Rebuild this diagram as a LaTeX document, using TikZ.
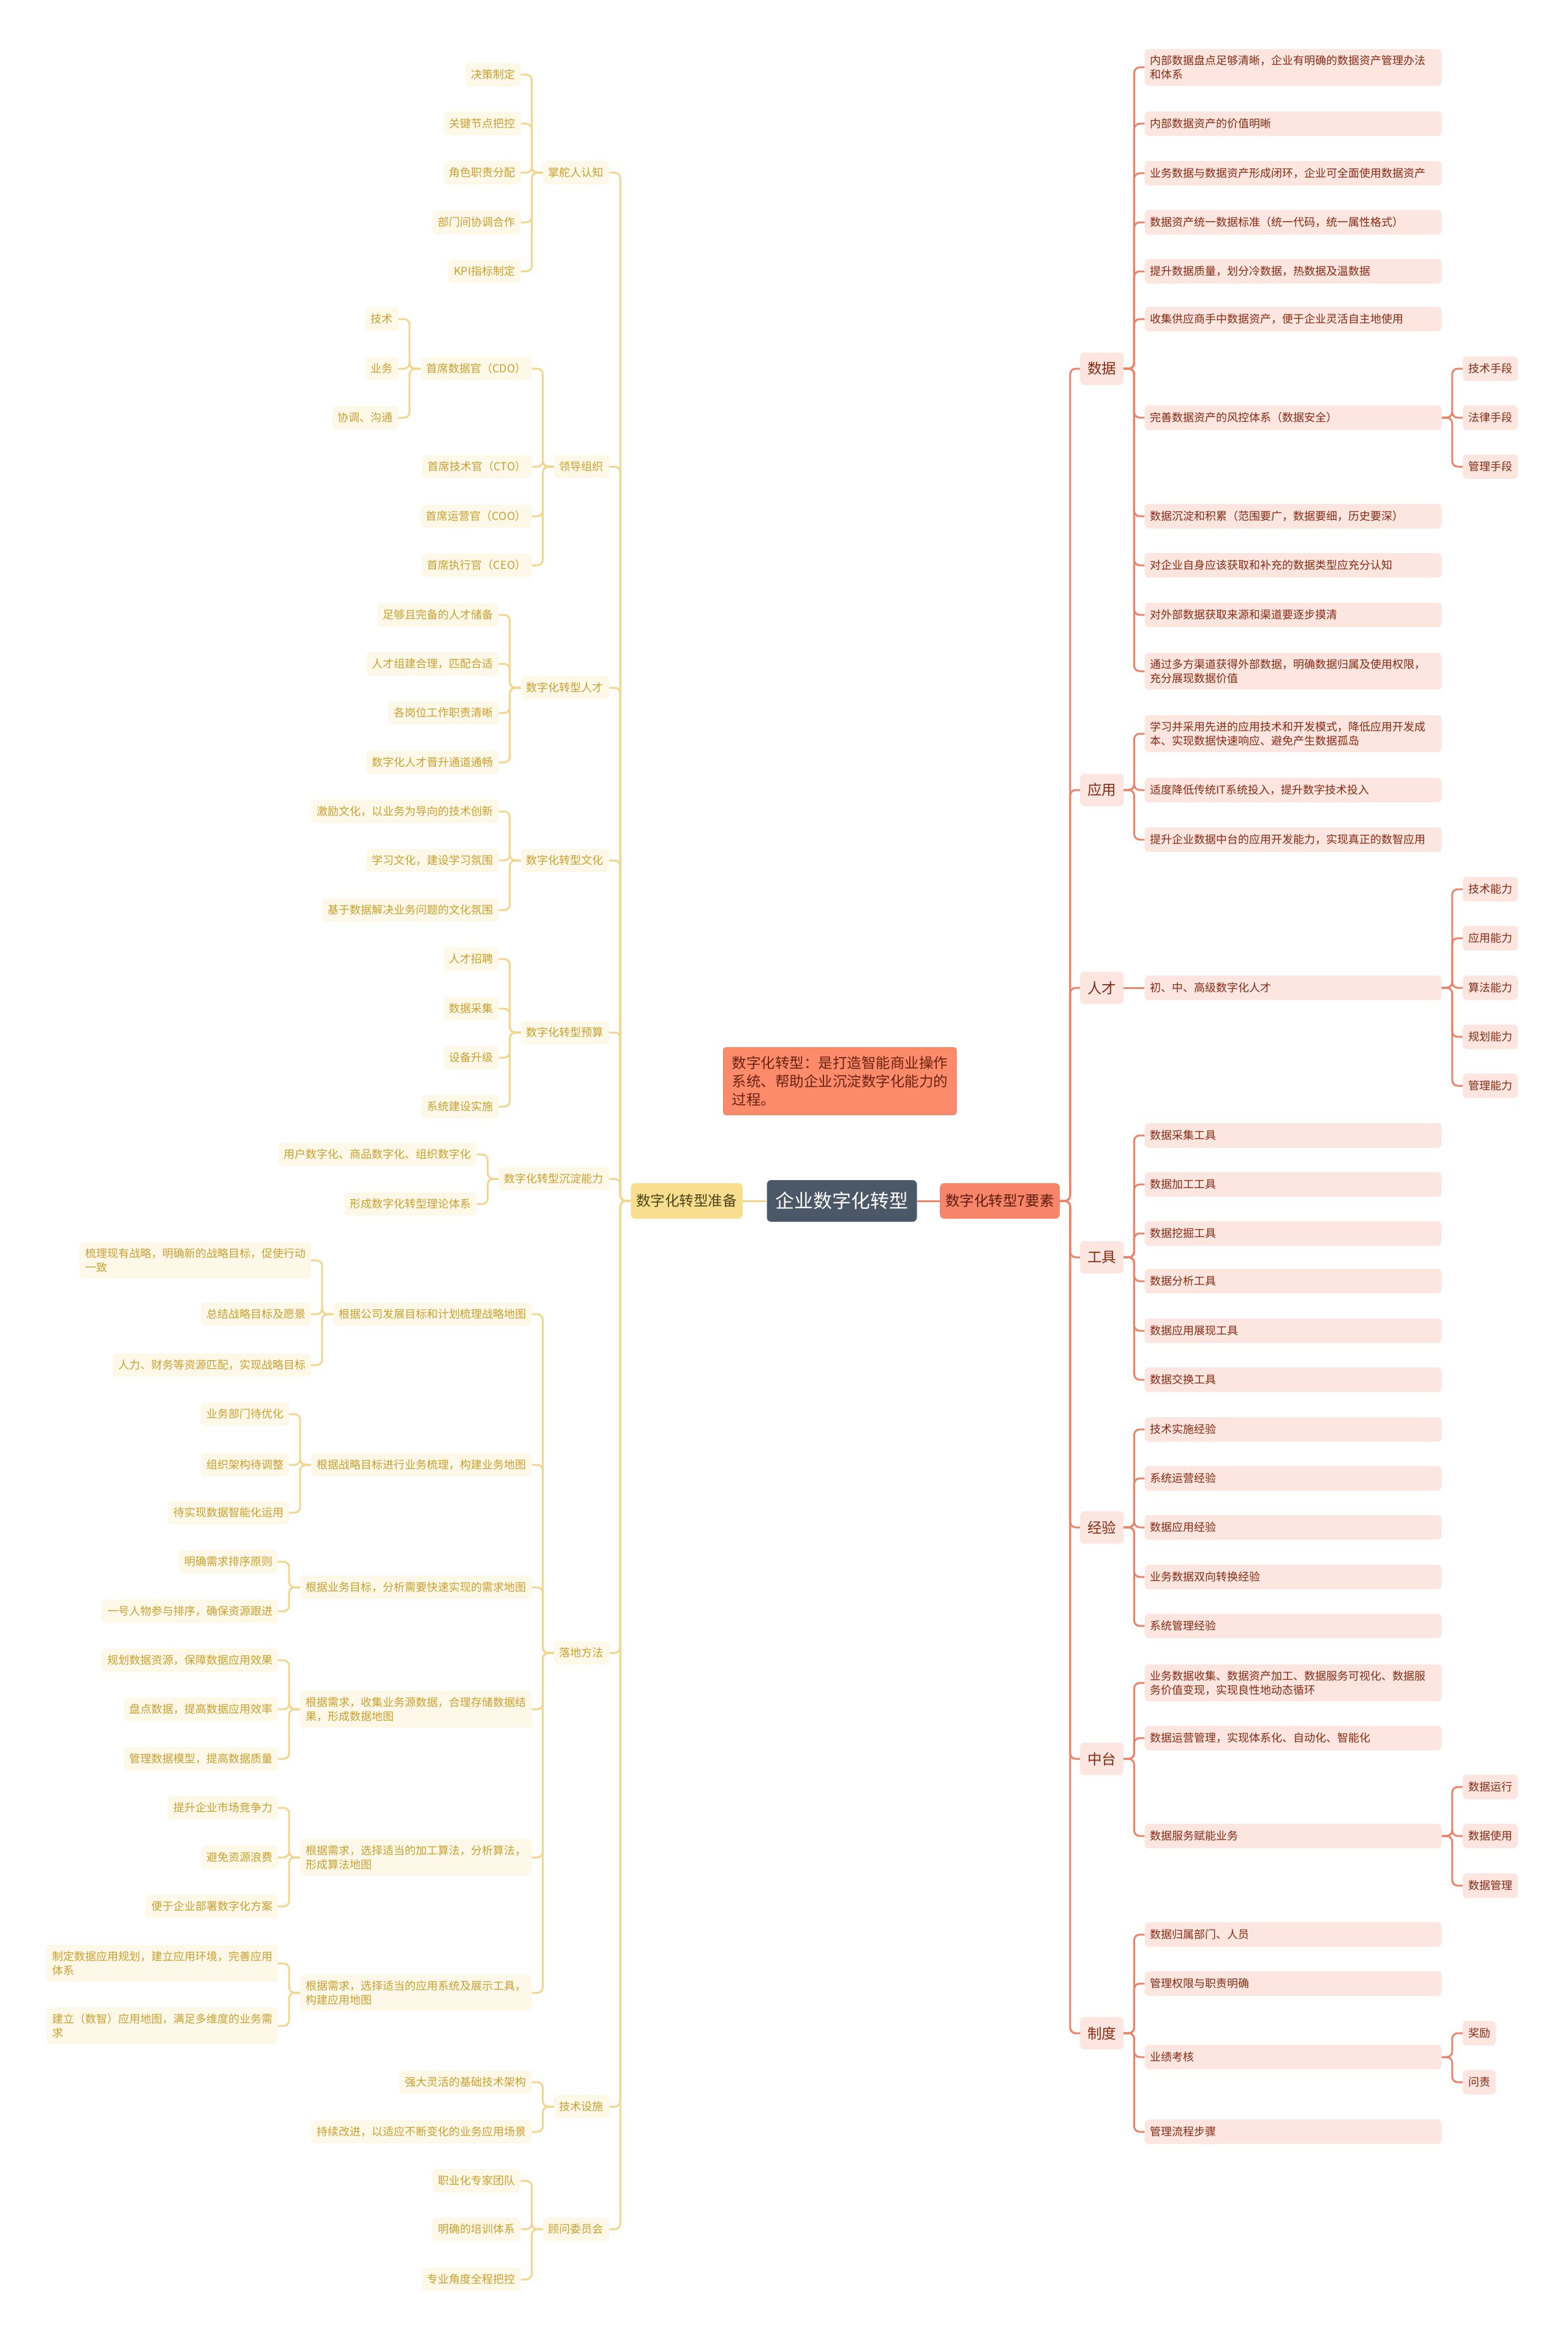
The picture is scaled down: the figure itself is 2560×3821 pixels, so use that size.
\documentclass[tikz,border=0pt]{standalone}
\usepackage{fontspec}
\setmainfont{Noto Sans CJK SC}
\definecolor{goldtxt}{HTML}{C9A030}
\definecolor{goldfill}{HTML}{FEF8E8}
\definecolor{goldline}{HTML}{F3D68E}
\definecolor{goldmain}{HTML}{F8DF8F}
\definecolor{goldmaintxt}{HTML}{4F4216}
\definecolor{redtxt}{HTML}{862A13}
\definecolor{redfill}{HTML}{FDE6E0}
\definecolor{redline}{HTML}{E8856A}
\definecolor{redmain}{HTML}{F6856A}
\definecolor{redmaintxt}{HTML}{5E1D0C}
\definecolor{slate}{HTML}{4A5868}
\definecolor{notefill}{HTML}{FC8B6C}
\definecolor{noteline}{HTML}{EE7A5A}
\definecolor{notetxt}{HTML}{6A2210}
\begin{document}
\begin{tikzpicture}[x=1pt,y=-1pt,
  mmbox/.style={rounded corners=7pt,inner xsep=9pt,inner ysep=10pt},
  txtS/.style={font=\fontsize{18}{23}\selectfont},
  txtM/.style={font=\fontsize{23.5}{28}\selectfont},
  leafL/.style={mmbox,txtS,fill=goldfill,text=goldtxt,minimum height=38pt,align=left},
  leafR/.style={mmbox,txtS,fill=redfill,text=redtxt,minimum height=40pt,text width=467pt,align=left},
  subR/.style={mmbox,txtS,fill=redfill,text=redtxt,minimum height=40pt},
  catR/.style={mmbox,txtM,fill=redfill,text=redtxt,minimum width=71pt,minimum height=53pt,inner xsep=12pt},
  lineL/.style={draw=goldline,line width=3pt,rounded corners=9pt},
  lineR/.style={draw=redline,line width=3pt,rounded corners=9pt}]
  \fill[white] (0,0) rectangle (2560,3821);
  \useasboundingbox (0,0) rectangle (2560,3821);

  % centre
  \node[mmbox,fill=slate,text=white,font=\fontsize{31}{36}\selectfont,minimum height=68pt,inner xsep=14pt] (root) at (1375,1961) {企业数字化转型};
  \node[mmbox,txtM,fill=goldmain,text=goldmaintxt,minimum height=58pt,anchor=east] (prep) at (1213,1961) {数字化转型准备};
  \node[mmbox,txtM,fill=redmain,text=redmaintxt,minimum height=58pt,anchor=west] (elem) at (1535,1961) {数字化转型7要素};
  \node[mmbox,txtM,fill=notefill,draw=noteline,line width=1pt,text=notetxt,font=\fontsize{23.5}{30}\selectfont,align=left,inner xsep=14pt,inner ysep=14pt,rounded corners=4pt,anchor=north west] (note) at (1181,1710) {数字化转型：是打造智能商业操作\\系统、帮助企业沉淀数字化能力的\\过程。};
  \draw[lineL] (root.west) -- (prep.east);
  \draw[lineR] (root.east) -- (elem.west);

  % left half
  \node[leafL,anchor=east] (zdr) at (995,282) {掌舵人认知};
  \node[leafL,anchor=east] (ldzz) at (995,762) {领导组织};
  \node[leafL,anchor=east] (rc) at (995,1123) {数字化转型人才};
  \node[leafL,anchor=east] (wh) at (995,1405) {数字化转型文化};
  \node[leafL,anchor=east] (ys) at (995,1686) {数字化转型预算};
  \node[leafL,anchor=east] (cd) at (995,1925) {数字化转型沉淀能力};
  \node[leafL,anchor=east] (ld) at (995,2699) {落地方法};
  \node[leafL,anchor=east] (js) at (995,3440) {技术设施};
  \node[leafL,anchor=east] (gw) at (995,3640) {顾问委员会};
  \foreach \n in {zdr,ldzz,rc,wh,ys,cd,ld,js,gw}
    \draw[lineL] (prep.west) -- ++(-17,0) |- (\n.east);

  \path (zdr.west) ++(-36,0) coordinate (zdrx);
  \foreach \y/\t [count=\i] in {122/决策制定,202/关键节点把控,282/角色职责分配,363/部门间协调合作,443/KPI指标制定}{
    \node[leafL,anchor=east] (zdr\i) at (zdrx |- 0,\y) {\t};
    \draw[lineL] (zdr.west) -- ++(-18,0) |- (zdr\i.east);
  }
  \path (ldzz.west) ++(-36,0) coordinate (ldzzx);
  \foreach \y/\t [count=\i] in {602/首席数据官（CDO）,762/首席技术官（CTO）,843/首席运营官（COO）,923/首席执行官（CEO）}{
    \node[leafL,anchor=east] (ldzz\i) at (ldzzx |- 0,\y) {\t};
    \draw[lineL] (ldzz.west) -- ++(-18,0) |- (ldzz\i.east);
  }
  \path (ldzz1.west) ++(-36,0) coordinate (cdox);
  \foreach \y/\t [count=\i] in {521/技术,602/业务,682/协调、沟通}{
    \node[leafL,anchor=east] (cdo\i) at (cdox |- 0,\y) {\t};
    \draw[lineL] (ldzz1.west) -- ++(-18,0) |- (cdo\i.east);
  }
  \path (rc.west) ++(-36,0) coordinate (rcx);
  \foreach \y/\t [count=\i] in {1004/足够且完备的人才储备,1084/人才组建合理，匹配合适,1164/各岗位工作职责清晰,1245/数字化人才晋升通道通畅}{
    \node[leafL,anchor=east] (rc\i) at (rcx |- 0,\y) {\t};
    \draw[lineL] (rc.west) -- ++(-18,0) |- (rc\i.east);
  }
  \path (wh.west) ++(-36,0) coordinate (whx);
  \foreach \y/\t [count=\i] in {1325/激励文化，以业务为导向的技术创新,1405/学习文化，建设学习氛围,1486/基于数据解决业务问题的文化氛围}{
    \node[leafL,anchor=east] (wh\i) at (whx |- 0,\y) {\t};
    \draw[lineL] (wh.west) -- ++(-18,0) |- (wh\i.east);
  }
  \path (ys.west) ++(-36,0) coordinate (ysx);
  \foreach \y/\t [count=\i] in {1566/人才招聘,1647/数据采集,1727/设备升级,1807/系统建设实施}{
    \node[leafL,anchor=east] (ys\i) at (ysx |- 0,\y) {\t};
    \draw[lineL] (ys.west) -- ++(-18,0) |- (ys\i.east);
  }
  \path (cd.west) ++(-36,0) coordinate (cdx);
  \foreach \y/\t [count=\i] in {1885/用户数字化、商品数字化、组织数字化,1966/形成数字化转型理论体系}{
    \node[leafL,anchor=east] (cd\i) at (cdx |- 0,\y) {\t};
    \draw[lineL] (cd.west) -- ++(-18,0) |- (cd\i.east);
  }
  \path (ld.west) ++(-36,0) coordinate (ldx);
  \foreach \y/\t [count=\i] in {2146/根据公司发展目标和计划梳理战略地图,2392/根据战略目标进行业务梳理，构建业务地图,2592/根据业务目标，分析需要快速实现的需求地图,2791/{根据需求，收集业务源数据，合理存储数据结\\果，形成数据地图},3033/{根据需求，选择适当的加工算法，分析算法，\\形成算法地图},3254/{根据需求，选择适当的应用系统及展示工具，\\构建应用地图}}{
    \node[leafL,anchor=east] (ld\i) at (ldx |- 0,\y) {\t};
    \draw[lineL] (ld.west) -- ++(-18,0) |- (ld\i.east);
  }
  \path (ld1.west) ++(-36,0) coordinate (zlx);
  \foreach \y/\t [count=\i] in {2058/{梳理现有战略，明确新的战略目标，促使行动\\一致},2146/总结战略目标及愿景,2229/人力、财务等资源匹配，实现战略目标}{
    \node[leafL,anchor=east] (zl\i) at (zlx |- 0,\y) {\t};
    \draw[lineL] (ld1.west) -- ++(-18,0) |- (zl\i.east);
  }
  \path (ld2.west) ++(-36,0) coordinate (ywx);
  \foreach \y/\t [count=\i] in {2309/业务部门待优化,2392/组织架构待调整,2470/待实现数据智能化运用}{
    \node[leafL,anchor=east] (yw\i) at (ywx |- 0,\y) {\t};
    \draw[lineL] (ld2.west) -- ++(-18,0) |- (yw\i.east);
  }
  \path (ld3.west) ++(-36,0) coordinate (xqx);
  \foreach \y/\t [count=\i] in {2550/明确需求排序原则,2631/一号人物参与排序，确保资源跟进}{
    \node[leafL,anchor=east] (xq\i) at (xqx |- 0,\y) {\t};
    \draw[lineL] (ld3.west) -- ++(-18,0) |- (xq\i.east);
  }
  \path (ld4.west) ++(-36,0) coordinate (sjtx);
  \foreach \y/\t [count=\i] in {2711/规划数据资源，保障数据应用效果,2791/盘点数据，提高数据应用效率,2872/管理数据模型，提高数据质量}{
    \node[leafL,anchor=east] (sjt\i) at (sjtx |- 0,\y) {\t};
    \draw[lineL] (ld4.west) -- ++(-18,0) |- (sjt\i.east);
  }
  \path (ld5.west) ++(-36,0) coordinate (sfx);
  \foreach \y/\t [count=\i] in {2952/提升企业市场竞争力,3033/避免资源浪费,3113/便于企业部署数字化方案}{
    \node[leafL,anchor=east] (sf\i) at (sfx |- 0,\y) {\t};
    \draw[lineL] (ld5.west) -- ++(-18,0) |- (sf\i.east);
  }
  \path (ld6.west) ++(-36,0) coordinate (yytx);
  \foreach \y/\t [count=\i] in {3206/{制定数据应用规划，建立应用环境，完善应用\\体系},3308/{建立（数智）应用地图，满足多维度的业务需\\求}}{
    \node[leafL,anchor=east] (yyt\i) at (yytx |- 0,\y) {\t};
    \draw[lineL] (ld6.west) -- ++(-18,0) |- (yyt\i.east);
  }
  \path (js.west) ++(-36,0) coordinate (jsx);
  \foreach \y/\t [count=\i] in {3400/强大灵活的基础技术架构,3481/持续改进，以适应不断变化的业务应用场景}{
    \node[leafL,anchor=east] (js\i) at (jsx |- 0,\y) {\t};
    \draw[lineL] (js.west) -- ++(-18,0) |- (js\i.east);
  }
  \path (gw.west) ++(-36,0) coordinate (gwx);
  \foreach \y/\t [count=\i] in {3561/职业化专家团队,3640/明确的培训体系,3722/专业角度全程把控}{
    \node[leafL,anchor=east] (gw\i) at (gwx |- 0,\y) {\t};
    \draw[lineL] (gw.west) -- ++(-18,0) |- (gw\i.east);
  }

  % right half
  \node[catR,anchor=west] (sj) at (1764,602) {数据};
  \node[catR,anchor=west] (yy) at (1764,1290) {应用};
  \node[catR,anchor=west] (rcR) at (1764,1613) {人才};
  \node[catR,anchor=west] (gj) at (1764,2053) {工具};
  \node[catR,anchor=west] (jy) at (1764,2494) {经验};
  \node[catR,anchor=west] (zt) at (1764,2872) {中台};
  \node[catR,anchor=west] (zd) at (1764,3320) {制度};
  \foreach \n in {sj,yy,rcR,gj,jy,zt,zd}
    \draw[lineR] (elem.east) -- ++(17,0) |- (\n.west);

  \path (sj.east) ++(34,0) coordinate (sjx);
  \foreach \y/\t [count=\i] in {110/{内部数据盘点足够清晰，企业有明确的数据资产管理办法\\和体系},202/内部数据资产的价值明晰,283/业务数据与数据资产形成闭环，企业可全面使用数据资产,363/数据资产统一数据标准（统一代码，统一属性格式）,443/提升数据质量，划分冷数据，热数据及温数据,521/收集供应商手中数据资产，便于企业灵活自主地使用,682/完善数据资产的风控体系（数据安全）,843/数据沉淀和积累（范围要广，数据要细，历史要深）,923/对企业自身应该获取和补充的数据类型应充分认知,1004/对外部数据获取来源和渠道要逐步摸清,1096/{通过多方渠道获得外部数据，明确数据归属及使用权限，\\充分展现数据价值}}{
    \node[leafR,anchor=west] (sj\i) at (sjx |- 0,\y) {\t};
    \draw[lineR] (sj.east) -- ++(17,0) |- (sj\i.west);
  }
  \path (sj7.east) ++(34,0) coordinate (fkx);
  \foreach \y/\t [count=\i] in {602/技术手段,682/法律手段,762/管理手段}{
    \node[subR,anchor=west] (fk\i) at (fkx |- 0,\y) {\t};
    \draw[lineR] (sj7.east) -- ++(17,0) |- (fk\i.west);
  }
  \path (yy.east) ++(34,0) coordinate (yyx);
  \foreach \y/\t [count=\i] in {1198/{学习并采用先进的应用技术和开发模式，降低应用开发成\\本、实现数据快速响应、避免产生数据孤岛},1290/适度降低传统IT系统投入，提升数字技术投入,1371/提升企业数据中台的应用开发能力，实现真正的数智应用}{
    \node[leafR,anchor=west] (yy\i) at (yyx |- 0,\y) {\t};
    \draw[lineR] (yy.east) -- ++(17,0) |- (yy\i.west);
  }
  \path (rcR.east) ++(34,0) coordinate (rcRx);
  \node[leafR,anchor=west] (rcR1) at (rcRx |- 0,1613) {初、中、高级数字化人才};
  \draw[lineR] (rcR.east) -- (rcR1.west);
  \path (rcR1.east) ++(34,0) coordinate (nlx);
  \foreach \y/\t [count=\i] in {1452/技术能力,1532/应用能力,1613/算法能力,1693/规划能力,1773/管理能力}{
    \node[subR,anchor=west] (nl\i) at (nlx |- 0,\y) {\t};
    \draw[lineR] (rcR1.east) -- ++(17,0) |- (nl\i.west);
  }
  \path (gj.east) ++(34,0) coordinate (gjx);
  \foreach \y/\t [count=\i] in {1854/数据采集工具,1934/数据加工工具,2014/数据挖掘工具,2092/数据分析工具,2173/数据应用展现工具,2253/数据交换工具}{
    \node[leafR,anchor=west] (gj\i) at (gjx |- 0,\y) {\t};
    \draw[lineR] (gj.east) -- ++(17,0) |- (gj\i.west);
  }
  \path (jy.east) ++(34,0) coordinate (jyx);
  \foreach \y/\t [count=\i] in {2334/技术实施经验,2414/系统运营经验,2494/数据应用经验,2575/业务数据双向转换经验,2655/系统管理经验}{
    \node[leafR,anchor=west] (jy\i) at (jyx |- 0,\y) {\t};
    \draw[lineR] (jy.east) -- ++(17,0) |- (jy\i.west);
  }
  \path (zt.east) ++(34,0) coordinate (ztx);
  \foreach \y/\t [count=\i] in {2748/{业务数据收集、数据资产加工、数据服务可视化、数据服\\务价值变现，实现良性地动态循环},2838/数据运营管理，实现体系化、自动化、智能化,2998/数据服务赋能业务}{
    \node[leafR,anchor=west] (zt\i) at (ztx |- 0,\y) {\t};
    \draw[lineR] (zt.east) -- ++(17,0) |- (zt\i.west);
  }
  \path (zt3.east) ++(34,0) coordinate (fwx);
  \foreach \y/\t [count=\i] in {2918/数据运行,2998/数据使用,3079/数据管理}{
    \node[subR,anchor=west] (fw\i) at (fwx |- 0,\y) {\t};
    \draw[lineR] (zt3.east) -- ++(17,0) |- (fw\i.west);
  }
  \path (zd.east) ++(34,0) coordinate (zdx);
  \foreach \y/\t [count=\i] in {3159/数据归属部门、人员,3239/管理权限与职责明确,3359/业绩考核,3481/管理流程步骤}{
    \node[leafR,anchor=west] (zd\i) at (zdx |- 0,\y) {\t};
    \draw[lineR] (zd.east) -- ++(17,0) |- (zd\i.west);
  }
  \path (zd3.east) ++(34,0) coordinate (khx);
  \foreach \y/\t [count=\i] in {3320/奖励,3400/问责}{
    \node[subR,anchor=west] (kh\i) at (khx |- 0,\y) {\t};
    \draw[lineR] (zd3.east) -- ++(17,0) |- (kh\i.west);
  }
\end{tikzpicture}
\end{document}
